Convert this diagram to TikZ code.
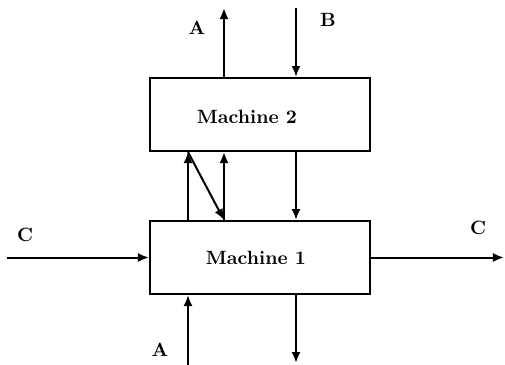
\documentclass[tikz,border=0pt]{standalone}
\usetikzlibrary{arrows.meta}
\begin{document}
\begin{tikzpicture}[x=0.5pt,y=-0.5pt,
  machine/.style={draw,line width=1pt,minimum width=110pt,minimum height=36.5pt,inner sep=0pt},
  flow/.style={line width=1pt,-{Latex[length=5.5pt,width=4.5pt]}},
  lbl/.style={font=\fontsize{9.6}{11}\bfseries,inner sep=0pt}]
\useasboundingbox (0,0) rectangle (505,365);
\node[machine,label={[lbl,xshift=-6.5pt,yshift=-1pt]center:Machine 2}] (m2) at (260,114.5) {};
\node[machine,label={[lbl,xshift=-2pt]center:Machine 1}] (m1) at (260,257.5) {};
\coordinate (aTop) at (224,8);
\coordinate (bTop) at (296,8);
\coordinate (xL) at (188,0);
\coordinate (xM) at (224,0);
\coordinate (xR) at (296,0);
\coordinate (cIn) at (7,257.5);
\coordinate (cOut) at (504,257.5);
\coordinate (aBot) at (188,365);
\coordinate (dBot) at (296,363);
\draw[flow] (m2.north -| aTop) -- (aTop);
\draw[flow] (bTop) -- (m2.north -| bTop);
\draw[flow] (m1.north -| xL) -- (m2.south -| xL);
\draw[flow] (m2.south -| xL) -- (m1.north -| xM);
\draw[flow] (m1.north -| xM) -- (m2.south -| xM);
\draw[flow] (m2.south -| xR) -- (m1.north -| xR);
\draw[flow] (cIn) -- (m1.west);
\draw[flow] (m1.east) -- (cOut);
\draw[flow] (aBot) -- (m1.south -| aBot);
\draw[flow] (m1.south -| dBot) -- (dBot);
\node[lbl] (lA1) at (197,28) {A};
\node[lbl] (lB) at (328,20) {B};
\node[lbl] (lC1) at (25,235) {C};
\node[lbl] (lC2) at (478,228) {C};
\node[lbl] (lA2) at (160,350) {A};
\end{tikzpicture}
\end{document}
